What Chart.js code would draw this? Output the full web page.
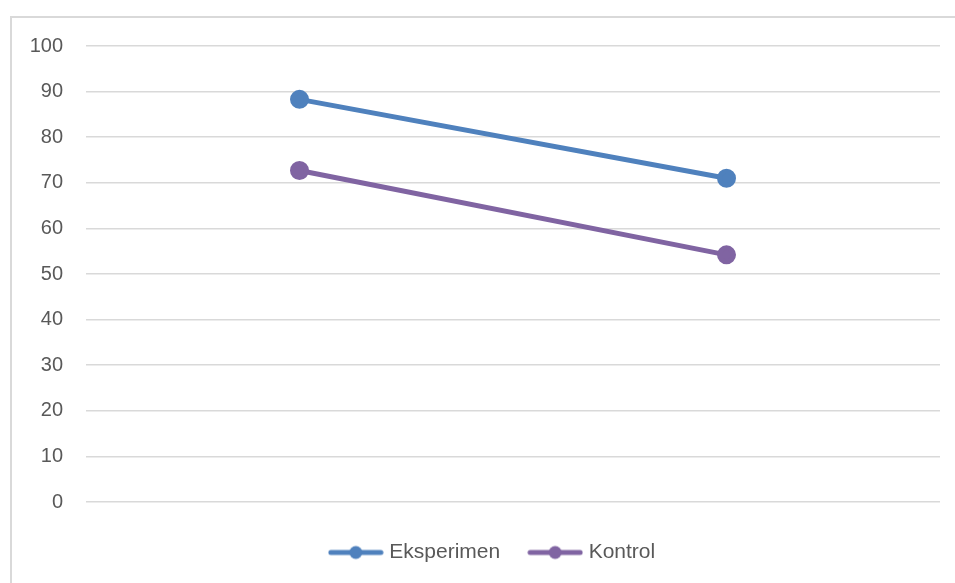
<!DOCTYPE html>
<html>
<head>
<meta charset="utf-8">
<script src="https://cdn.jsdelivr.net/npm/chart.js@4"></script>
<style>
  body { margin: 0; background: #fff; }
  #frame { position: absolute; left: 10px; top: 16px; width: 960px; height: 600px; border: 2px solid #d9d9d9; box-sizing: border-box; }
  #wrap { position: absolute; left: 0; top: 0; width: 955px; height: 583px; }
</style>
</head>
<body>
<div id="frame"></div>
<div id="wrap"><canvas id="myChart"></canvas></div>
<script>
let categories = ["Pretest", "Posttest"];
let eksperimen = [88.3, 71.0];
let kontrol = [72.7, 54.2];
let yTicks = [0, 10, 20, 30, 40, 50, 60, 70, 80, 90, 100];

function legendIcon(color) {
  let c = document.createElement("canvas");
  c.width = 56;
  c.height = 16;
  let g = c.getContext("2d");
  g.strokeStyle = color;
  g.lineWidth = 5;
  g.lineCap = "round";
  g.beginPath();
  g.moveTo(3, 8);
  g.lineTo(53, 8);
  g.stroke();
  g.fillStyle = color;
  g.beginPath();
  g.arc(28, 8, 6.5, 0, Math.PI * 2);
  g.fill();
  return c;
}

let blue = "#4f81bd";
let purple = "#8064a2";
let fontFam = "'Liberation Sans', Arial, sans-serif";

// legend in the original sits a bit right of the canvas centre
let legendShift = {
  id: "legendShift",
  afterLayout: function (chart) {
    chart.legend.left += 24;
    chart.legend.right += 24;
  },
};

let ch = new Chart("myChart", {
  type: "line",
  plugins: [legendShift],
  data: {
    labels: categories,
    datasets: [
      {
        label: "Eksperimen",
        data: eksperimen,
        borderColor: blue,
        backgroundColor: blue,
        borderWidth: 5,
        pointRadius: 7,
        pointHoverRadius: 7,
        pointStyle: "circle",
      },
      {
        label: "Kontrol",
        data: kontrol,
        borderColor: purple,
        backgroundColor: purple,
        borderWidth: 5,
        pointRadius: 7,
        pointHoverRadius: 7,
        pointStyle: "circle",
      },
    ],
  },
  options: {
    responsive: true,
    maintainAspectRatio: false,
    animation: false,
    layout: { padding: { left: 0, right: 15, top: 46, bottom: 10 } },
    plugins: {
      tooltip: { enabled: false },
      legend: {
        position: "bottom",
        labels: {
          usePointStyle: true,
          pointStyleWidth: 46,
          color: "#595959",
          font: { family: fontFam, size: 21 },
          padding: 32,
          generateLabels: function (chart) {
            return chart.data.datasets.map(function (ds, i) {
              return {
                text: ds.label,
                fontColor: "#595959",
                pointStyle: legendIcon(ds.borderColor),
                datasetIndex: i,
                lineWidth: 0,
                hidden: false,
              };
            });
          },
        },
      },
    },
    scales: {
      x: {
        offset: true,
        afterFit: function (s) { s.height = 8; },
        grid: { display: false, drawTicks: false },
        border: { display: false },
        ticks: { display: false },
      },
      y: {
        min: 0,
        max: 100,
        afterFit: function (s) { s.width = 86; },
        afterBuildTicks: function (s) { s.ticks = yTicks.map(function (v) { return { value: v }; }); },
        grid: { color: "#d9d9d9", lineWidth: 1.5, drawTicks: false },
        border: { display: false },
        ticks: {
          padding: 23,
          color: "#595959",
          font: { family: fontFam, size: 20 },
        },
      },
    },
  },
});
</script>
</body>
</html>
